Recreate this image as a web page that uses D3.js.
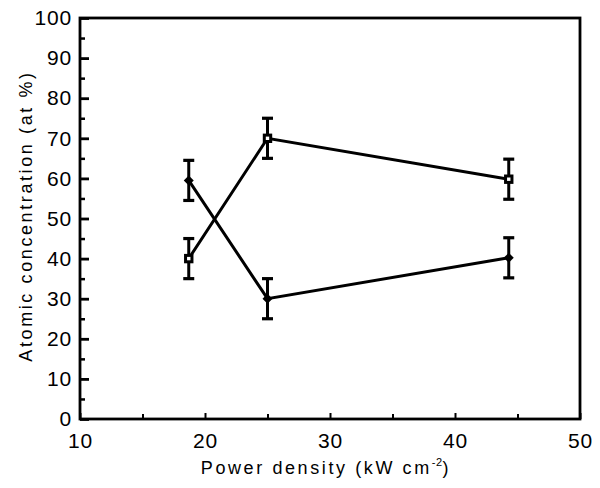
<!DOCTYPE html>
<html>
<head>
<meta charset="utf-8">
<script src="https://cdn.jsdelivr.net/npm/d3@7"></script>
<style>
  html, body { margin: 0; padding: 0; background: #fff; }
  svg { display: block; font-family: "Liberation Sans", Arial, sans-serif; }
</style>
</head>
<body>
<svg id="chart" width="600" height="488"></svg>
<script>
// ---- data ----
const powerDensity = [18.7, 25.0, 44.3];
const seriesFilled = [59.5, 30.0, 40.2];   // filled diamond markers
const errorsFilled = [5, 5, 5];
const seriesOpen = [40.0, 70.0, 59.8];     // open square markers
const errorsOpen = [5, 5, 5];
const xTicks = [10, 20, 30, 40, 50];
const yTicks = [0, 10, 20, 30, 40, 50, 60, 70, 80, 90, 100];
const xTitle = "Power density (kW cm";
const xTitleSup = "-2";
const yTitle = "Atomic concentration (at %)";

// ---- layout ----
const svg = d3.select("#chart");
const mLeft = 80, mRight = 580, mTop = 18, mBottom = 419;
const x = d3.scaleLinear().domain([10, 50]).range([mLeft, mRight]);
const y = d3.scaleLinear().domain([0, 100]).range([mBottom, mTop]);
const ink = "#000";

// frame
svg.append("rect")
  .attr("x", mLeft).attr("y", mTop)
  .attr("width", mRight - mLeft).attr("height", mBottom - mTop)
  .attr("fill", "none").attr("stroke", ink).attr("stroke-width", 2.8);

// y axis (ticks inward)
const yAxis = d3.axisLeft(y).tickValues(yTicks).tickSize(-9).tickPadding(8).tickFormat(d3.format("d"));
const gy = svg.append("g").attr("transform", `translate(${mLeft},0)`).call(yAxis);
gy.select(".domain").remove();
gy.selectAll(".tick line").attr("stroke", ink).attr("stroke-width", 2.8);
gy.selectAll(".tick text").attr("font-size", 21).attr("letter-spacing", 0.8).attr("fill", ink);
const yMinor = d3.axisLeft(y).tickValues(d3.range(5, 100, 10)).tickSize(-5).tickFormat("");
const gym = svg.append("g").attr("transform", `translate(${mLeft},0)`).call(yMinor);
gym.select(".domain").remove();
gym.selectAll(".tick line").attr("stroke", ink).attr("stroke-width", 2.5);

// x axis (ticks inward)
const xAxis = d3.axisBottom(x).tickValues(xTicks).tickSize(-6).tickPadding(14).tickFormat(d3.format("d"));
const gx = svg.append("g").attr("transform", `translate(0,${mBottom})`).call(xAxis);
gx.select(".domain").remove();
gx.selectAll(".tick line").attr("stroke", ink).attr("stroke-width", 2);
gx.selectAll(".tick text").attr("font-size", 21).attr("letter-spacing", 0.8).attr("fill", ink);
const xMinor = d3.axisBottom(x).tickValues([15, 25, 35, 45]).tickSize(-5).tickFormat("");
const gxm = svg.append("g").attr("transform", `translate(0,${mBottom})`).call(xMinor);
gxm.select(".domain").remove();
gxm.selectAll(".tick line").attr("stroke", ink).attr("stroke-width", 2);

// titles
const xt = svg.append("text")
  .attr("x", (mLeft + mRight) / 2 - 4).attr("y", 474)
  .attr("text-anchor", "middle").attr("font-size", 18).attr("fill", ink)
  .attr("letter-spacing", 2.6);
xt.append("tspan").text(xTitle);
xt.append("tspan").attr("font-size", 11).attr("letter-spacing", 0.5).attr("dy", -8).text(xTitleSup);
xt.append("tspan").attr("dy", 8).text(")");

svg.append("text")
  .attr("transform", `translate(32,216) rotate(-90)`)
  .attr("text-anchor", "middle").attr("font-size", 18).attr("fill", ink)
  .attr("letter-spacing", 2.6)
  .text(yTitle);

// series
function drawSeries(vals, errs, kind) {
  const pts = powerDensity.map((px, i) => ({ x: px, y: vals[i], e: errs[i] }));
  svg.append("path").datum(pts)
    .attr("d", d3.line().x(d => x(d.x)).y(d => y(d.y)))
    .attr("fill", "none").attr("stroke", ink).attr("stroke-width", 3);
  const g = svg.append("g");
  pts.forEach(d => {
    const cx = x(d.x);
    g.append("line").attr("x1", cx).attr("x2", cx)
      .attr("y1", y(d.y - d.e)).attr("y2", y(d.y + d.e))
      .attr("stroke", ink).attr("stroke-width", 3);
    [d.y - d.e, d.y + d.e].forEach(v => {
      g.append("line").attr("x1", cx - 5.5).attr("x2", cx + 5.5)
        .attr("y1", y(v)).attr("y2", y(v))
        .attr("stroke", ink).attr("stroke-width", 3.2);
    });
    if (kind === "filled") {
      g.append("path")
        .attr("transform", `translate(${cx},${y(d.y)}) rotate(45)`)
        .attr("d", d3.symbol().type(d3.symbolSquare).size(50)())
        .attr("fill", ink);
    } else {
      g.append("rect")
        .attr("x", cx - 3.2).attr("y", y(d.y) - 3.2)
        .attr("width", 6.4).attr("height", 6.4)
        .attr("fill", "#fff").attr("stroke", ink).attr("stroke-width", 3);
    }
  });
}
drawSeries(seriesFilled, errorsFilled, "filled");
drawSeries(seriesOpen, errorsOpen, "open");
</script>
</body>
</html>
